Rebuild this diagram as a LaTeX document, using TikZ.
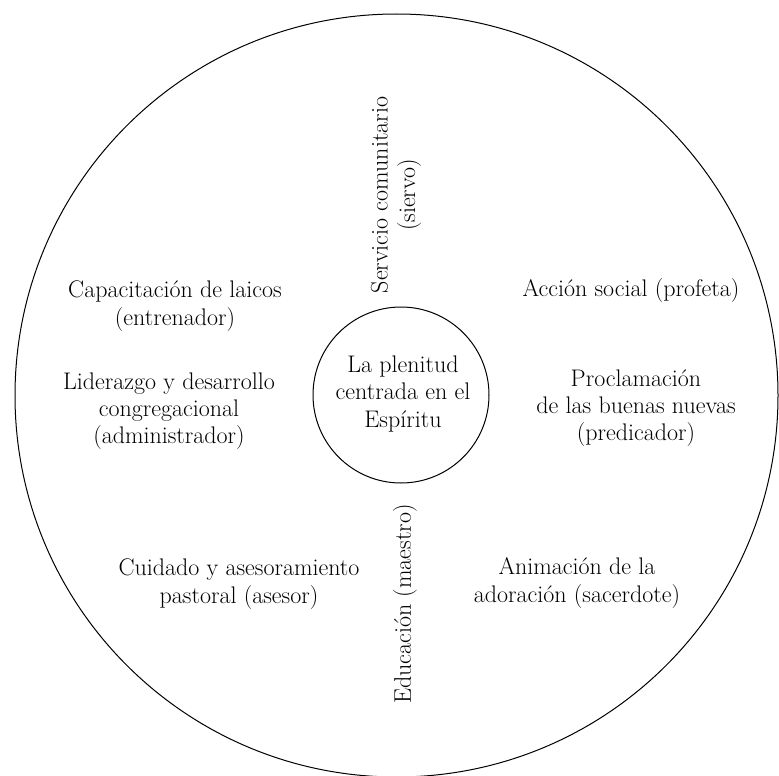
\documentclass[tikz,border=0pt]{standalone}
\begin{document}
\begin{tikzpicture}[x=1pt,y=-1pt,
  lbl/.style={align=center,inner sep=0pt,font=\fontsize{24}{27.3}\selectfont},
  ring/.style={draw,line width=1pt}]
\useasboundingbox (0,0) rectangle (779,776);
\node[ring,circle,minimum size=763pt,inner sep=0pt] (outer) at (396.5,395.5) {};
\node[ring,circle,minimum size=176pt,inner sep=0pt] (inner) at (401,395) {};
\node[lbl] (center) at (403,394) {La plenitud\\centrada en el\\Espíritu};
\node[lbl,rotate=90] (serv) at (396,195) {Servicio comunitario\\(siervo)};
\node[lbl,rotate=90] (edu) at (405,604) {Educación (maestro)};
\node[lbl] (cap) at (175,306) {Capacitación de laicos\\(entrenador)};
\node[lbl] (lid) at (169,411) {Liderazgo y desarrollo\\congregacional\\(administrador)};
\node[lbl] (acc) at (631,291) {Acción social (profeta)};
\node[lbl] (proc) at (636,408) {Proclamación\\de las buenas nuevas\\(predicador)};
\node[lbl] (cui) at (239,584) {Cuidado y asesoramiento\\pastoral (asesor)};
\node[lbl] (ani) at (577,583) {Animación de la\\adoración (sacerdote)};
\end{tikzpicture}
\end{document}
